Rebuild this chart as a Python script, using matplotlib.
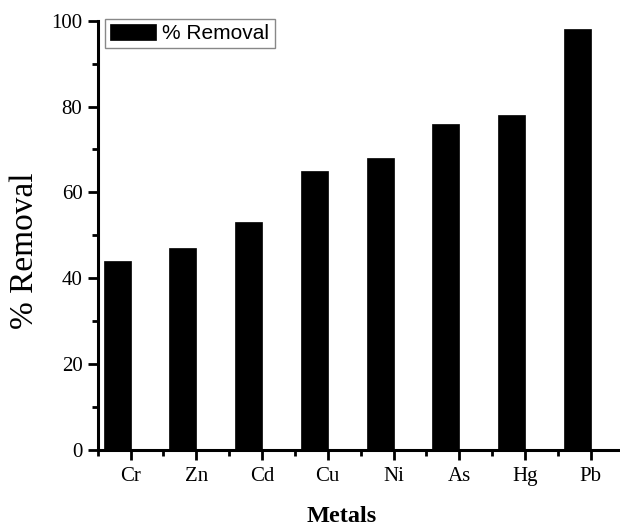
import numpy as np
import matplotlib
matplotlib.use("Agg")
import matplotlib.pyplot as plt
from matplotlib.ticker import MultipleLocator

# removal efficiency per metal
metals = ["Cr", "Zn", "Cd", "Cu", "Ni", "As", "Hg", "Pb"]
removal = [44, 47, 53, 65, 68, 76, 78, 98]

serif = ["Liberation Serif", "DejaVu Serif"]
sans = ["Liberation Sans", "DejaVu Sans"]

fig = plt.figure(figsize=(6.2, 5.27), dpi=100)
# axis runs off the right edge, like the original export
ax = fig.add_axes([0.1576, 0.1461, 0.8482, 0.8146])

x = np.arange(len(metals))
w = 0.41
ax.bar(x - w, removal, width=w, align="edge", color="black",
       edgecolor="black", linewidth=0.5, label="% Removal")

ax.set_xlim(-0.5, len(metals) - 0.5)
ax.set_ylim(0, 100)
ax.set_xticks(x)
ax.set_xticklabels(metals)
ax.xaxis.set_minor_locator(MultipleLocator(1, offset=0.5))
ax.yaxis.set_major_locator(MultipleLocator(20))
ax.yaxis.set_minor_locator(MultipleLocator(10))

for s in ["top", "right"]:
    ax.spines[s].set_visible(False)
for s in ["left", "bottom"]:
    ax.spines[s].set_linewidth(2.2)

ax.tick_params(which="major", direction="out", length=7, width=2, pad=4,
               labelsize=15)
ax.tick_params(axis="x", which="major", pad=5)
ax.tick_params(which="minor", direction="out", length=4.5, width=2)
for lab in ax.get_xticklabels() + ax.get_yticklabels():
    lab.set_family(serif)

ax.set_ylabel("% Removal", family=serif, fontsize=24, va="center")
ax.yaxis.set_label_coords(-0.139, 0.4636)
ax.set_xlabel("Metals", family=serif, fontsize=17.5, fontweight="bold",
              va="center")
ax.xaxis.set_label_coords(0.4645, -0.156)

leg = ax.legend(loc="upper left", bbox_to_anchor=(0.014, 1.004),
                prop={"family": sans, "size": 15}, fancybox=False,
                edgecolor="#888888", framealpha=1, borderpad=0.25,
                handlelength=2.2, handleheight=0.75, handletextpad=0.3,
                borderaxespad=0)
leg.get_frame().set_linewidth(1.0)

fig.savefig("out.png", dpi=100)
